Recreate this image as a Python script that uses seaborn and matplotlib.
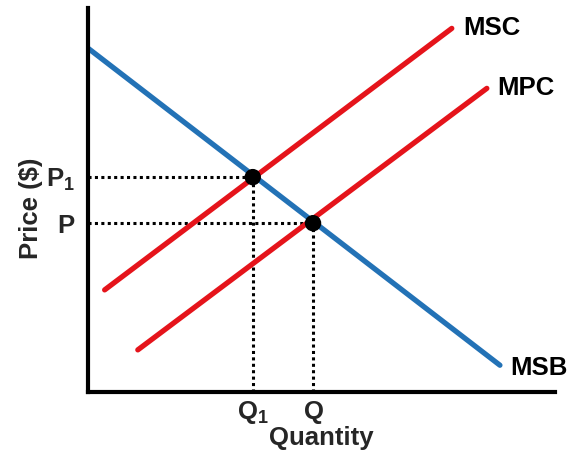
import matplotlib
matplotlib.use("Agg")
import matplotlib.pyplot as plt
import seaborn as sns
import pandas as pd

# ---- data (axis units: quantity 0..10, price 0..8) ----
curve_names = ["MSB", "MSC", "MPC"]
curve_x = {"MSB": [0.0, 8.82], "MSC": [0.36, 7.79], "MPC": [1.07, 8.54]}
curve_y = {"MSB": [7.17, 0.56], "MSC": [2.13, 7.58], "MPC": [0.88, 6.33]}
eq_x = [3.53, 4.82]          # Q1, Q
eq_y = [4.48, 3.52]          # P1, P
x_tick_labels = [r"$\mathbf{Q_1}$", r"$\mathbf{Q}$"]
y_tick_labels = [r"$\mathbf{P_1}$", r"$\mathbf{P}$"]
label_pos = {"MSC": (8.03, 7.58), "MPC": (8.76, 6.33), "MSB": (9.04, 0.50)}

colors = {"MSB": "#2372b6", "MSC": "#e5141b", "MPC": "#e5141b"}

FS = 18.5

sns.set_theme(style="white")
plt.rcParams["font.family"] = ["Liberation Sans", "DejaVu Sans"]
plt.rcParams["mathtext.fontset"] = "custom"
plt.rcParams["mathtext.rm"] = "Liberation Sans:bold"
plt.rcParams["mathtext.bf"] = "Liberation Sans:bold"
plt.rcParams["mathtext.it"] = "Liberation Sans:bold"

rows = []
for name in curve_names:
    for x, y in zip(curve_x[name], curve_y[name]):
        rows.append({"Quantity": x, "Price": y, "curve": name})
df = pd.DataFrame(rows)

fig = plt.figure(figsize=(5.74, 4.57), dpi=100)
ax = fig.add_axes([0.153, 0.142, 0.814, 0.840])

# dotted guides
for qx, py in zip(eq_x, eq_y):
    ax.plot([0, qx], [py, py], color="black", lw=2.2, linestyle=(0, (1, 1.1)),
            solid_capstyle="butt", zorder=1)
    ax.plot([qx, qx], [0, py], color="black", lw=2.2, linestyle=(0, (1, 1.1)),
            solid_capstyle="butt", zorder=1)

sns.lineplot(data=df, x="Quantity", y="Price", hue="curve", palette=colors,
             linewidth=3.8, legend=False, ax=ax, zorder=2, sort=False,
             estimator=None)

pts = pd.DataFrame({"Quantity": eq_x, "Price": eq_y})
sns.scatterplot(data=pts, x="Quantity", y="Price", color="black", s=140,
                edgecolor="none", ax=ax, zorder=3)

for name, (tx, ty) in label_pos.items():
    ax.text(tx, ty, name, fontsize=FS, fontweight="bold", ha="left",
            va="center", color="black")

ax.set_xlim(0, 10)
ax.set_ylim(0, 8)
ax.set_xticks(eq_x)
ax.set_xticklabels(x_tick_labels, fontsize=FS)
ax.set_yticks(eq_y)
ax.set_yticklabels(y_tick_labels, fontsize=FS)
ax.tick_params(axis="both", length=0)
ax.tick_params(axis="x", pad=5)
ax.tick_params(axis="y", pad=9)

ax.set_xlabel("Quantity", fontsize=FS, fontweight="bold", labelpad=0)
ax.set_ylabel("Price ($)", fontsize=FS, fontweight="bold", labelpad=3)
ax.yaxis.set_label_coords(-0.097, 0.48)

for side in ["top", "right"]:
    ax.spines[side].set_visible(False)
for side in ["left", "bottom"]:
    ax.spines[side].set_linewidth(3)
    ax.spines[side].set_color("black")
ax.grid(False)

fig.savefig("out.png", dpi=100)
